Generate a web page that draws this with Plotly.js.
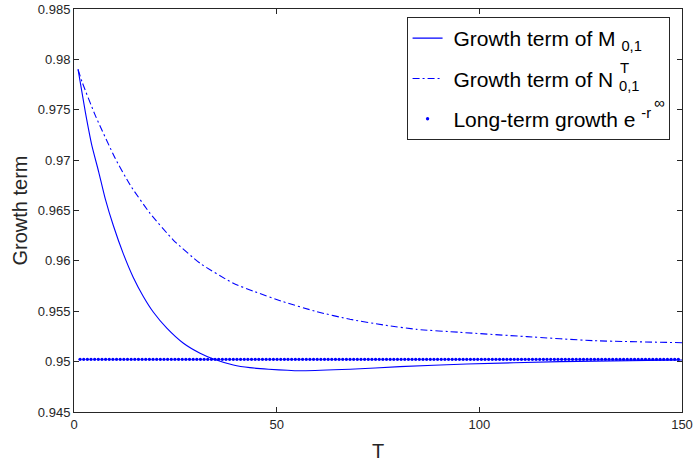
<!DOCTYPE html>
<html>
<head>
<meta charset="utf-8">
<script src="https://cdn.plot.ly/plotly-3.0.1.min.js"></script>
<style>html,body{margin:0;padding:0;background:#fff;}#chart{width:694px;height:462px;}</style>
</head>
<body>
<div id="chart"></div>
<script>
// Growth term of M_{0,1}
const mT = [1, 2.8, 4.4, 6.1, 7.7, 9.7, 12.2, 14.6, 17.1, 19.6, 22.9, 27.0, 31.1, 34.4, 39.3, 43.4, 48, 55.8, 68.1, 80.4, 96.9, 119.9, 150];
const mY = [0.9790, 0.97477, 0.97147, 0.96882, 0.96618, 0.96351, 0.96067, 0.95838, 0.95647, 0.9549, 0.95332, 0.95182, 0.95083, 0.95026, 0.94967, 0.9494, 0.94925, 0.9491, 0.94924, 0.9495, 0.94976, 0.9500, 0.95016];
// Growth term of N^T_{0,1}
const nT = [1, 2.0, 5.25, 10.2, 13.9, 18.75, 24.5, 31.1, 39.3, 44.2, 51.6, 59.9, 68.1, 76.3, 84.6, 95.2, 111.7, 128.1, 150];
const nY = [0.9790, 0.97775, 0.97444, 0.97015, 0.9675, 0.96472, 0.96207, 0.95976, 0.95777, 0.9570, 0.95595, 0.95496, 0.9542, 0.95364, 0.9532, 0.95291, 0.95248, 0.95208, 0.95188];
// Long-term growth e^{-r^inf}
const longTerm = 0.95023;
const dotStep = 0.9;
const dotT = [];
for (let t = 1.5; t <= 150; t += dotStep) dotT.push(t);
const dotY = dotT.map(() => longTerm);

const xTicks = [0, 50, 100, 150];
const yTicks = [0.945, 0.95, 0.955, 0.96, 0.965, 0.97, 0.975, 0.98, 0.985];
const yTickText = ['0.945', '0.95', '0.955', '0.96', '0.965', '0.97', '0.975', '0.98', '0.985'];

const FONT = '"Liberation Sans", Arial, Helvetica, sans-serif';
const BLUE = '#0000ff';
const AX = '#262626';

const traces = [
  {x: mT, y: mY, type: 'scatter', mode: 'lines', line: {color: BLUE, width: 1.1, shape: 'spline', smoothing: 0.5},
   name: '\u00a0Growth term of M <sub>0,1</sub>', legendgroup: 'a'},
  {x: nT, y: nY, type: 'scatter', mode: 'lines', line: {color: BLUE, width: 1.1, dash: '7px,3px,2px,3px', shape: 'spline', smoothing: 0.5},
   name: '\u00a0Growth term of N <sub>0,1</sub>', legendgroup: 'b'},
  {x: dotT, y: dotY, type: 'scatter', mode: 'markers', marker: {color: BLUE, size: 3.3},
   name: '\u00a0Long-term growth e <sup>-r</sup>\u00a0\u00a0', legendgroup: 'c'}
];

const axisCommon = {
  showgrid: false, zeroline: false, showline: true, linecolor: AX, linewidth: 1,
  mirror: 'ticks', ticks: 'inside', ticklen: 5, tickcolor: AX, tickwidth: 1,
  tickfont: {family: FONT, size: 13, color: AX}
};

const layout = {
  width: 694, height: 462,
  margin: {l: 74, r: 12, t: 9, b: 50},
  paper_bgcolor: '#fff', plot_bgcolor: '#fff',
  showlegend: true,
  xaxis: Object.assign({}, axisCommon, {
    range: [0, 150], tickvals: xTicks, ticktext: xTicks.map(String),
    title: {text: 'T', font: {family: FONT, size: 20, color: AX}, standoff: 14}
  }),
  yaxis: Object.assign({}, axisCommon, {
    range: [0.945, 0.985], tickvals: yTicks, ticktext: yTickText,
    title: {text: 'Growth term', font: {family: FONT, size: 20, color: AX}, standoff: 4}
  }),
  legend: {
    x: 0.547, y: 1 - (17 - 9) / 403, xanchor: 'left', yanchor: 'top',
    bgcolor: '#fff', bordercolor: AX, borderwidth: 1,
    font: {family: FONT, size: 21, color: '#000'},
    tracegroupgap: 10, itemwidth: 30
  },
  annotations: [
    {xref: 'paper', yref: 'paper', x: (624 - 74) / 608, y: 1 - (67 - 9) / 403, text: 'T', showarrow: false,
     font: {family: FONT, size: 15, color: '#000'}, xanchor: 'center', yanchor: 'middle'},
    {xref: 'paper', yref: 'paper', x: (659 - 74) / 608, y: 1 - (103 - 9) / 403, text: '∞', showarrow: false,
     font: {family: FONT, size: 15, color: '#000'}, xanchor: 'center', yanchor: 'middle'}
  ]
};

Plotly.newPlot('chart', traces, layout, {displayModeBar: false, staticPlot: true});
</script>
</body>
</html>
